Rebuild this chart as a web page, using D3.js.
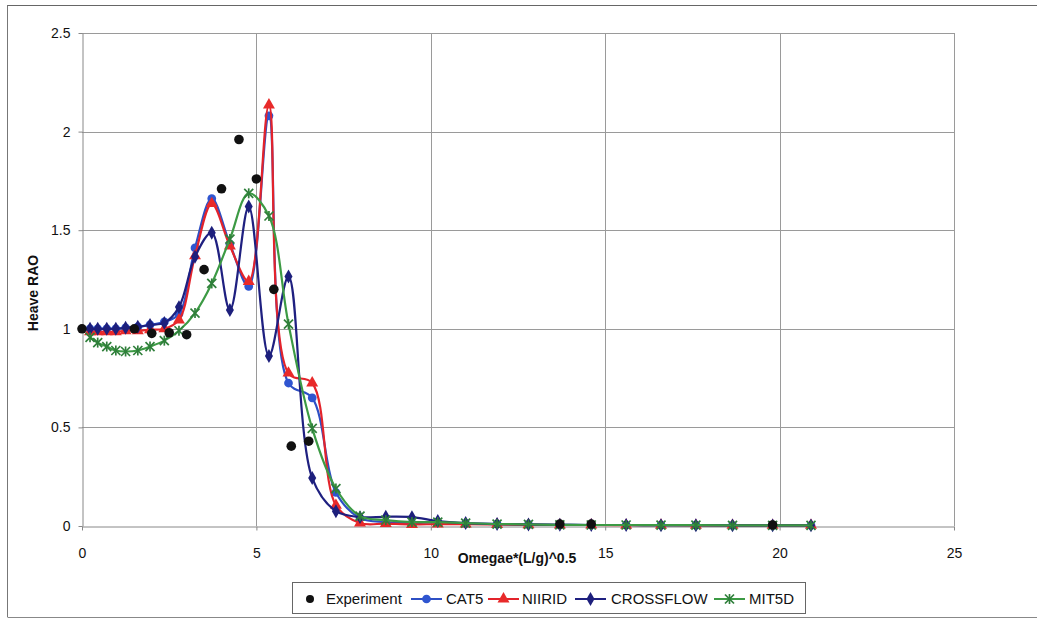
<!DOCTYPE html>
<html><head><meta charset="utf-8">
<script src="https://cdn.jsdelivr.net/npm/d3@7"></script>
<style>
body{margin:0;background:#fff;}
svg{display:block;font-family:"Liberation Sans",Arial,sans-serif;}
</style></head>
<body><svg id="c" width="1037" height="619"></svg>
<script>
// ---- data ----
const omega = [0.23,0.45,0.71,0.97,1.25,1.6,1.95,2.36,2.78,3.24,3.72,4.24,4.78,5.36,5.92,6.6,7.28,7.97,8.71,9.46,10.2,11.0,11.9,12.8,13.7,14.6,15.6,16.6,17.6,18.65,19.8,20.9];
const cat5 = [1.0,1.0,1.0,1.0,1.005,1.01,1.02,1.035,1.075,1.41,1.66,1.43,1.215,2.08,0.725,0.65,0.17,0.04,0.02,0.015,0.02,0.012,0.01,0.008,0.006,0.005,0.005,0.004,0.004,0.003,0.003,0.003];
const niirid = [0.985,0.985,0.985,0.985,0.99,0.99,0.995,1.0,1.045,1.37,1.635,1.42,1.24,2.135,0.775,0.725,0.105,0.015,0.012,0.008,0.01,0.01,0.008,0.006,0.005,0.005,0.004,0.004,0.003,0.003,0.003,0.003];
const crossflow = [1.0,1.0,1.0,1.0,1.005,1.01,1.02,1.03,1.11,1.365,1.487,1.095,1.62,0.862,1.265,0.243,0.075,0.045,0.047,0.045,0.025,0.015,0.01,0.008,0.006,0.005,0.005,0.004,0.004,0.003,0.003,0.003];
const mit5d = [0.957,0.93,0.91,0.89,0.885,0.89,0.91,0.94,0.99,1.08,1.23,1.455,1.687,1.572,1.024,0.495,0.19,0.05,0.03,0.02,0.02,0.015,0.01,0.008,0.006,0.005,0.005,0.004,0.004,0.003,0.003,0.003];
const expX = [0,1.5,2,2.5,3,3.5,4,4.5,5,5.5,6,6.5,13.7,14.6,19.8];
const expY = [1.0,1.0,0.977,0.98,0.97,1.30,1.71,1.96,1.76,1.20,0.405,0.43,0.01,0.01,0.005];
const xTicks = [0,5,10,15,20,25];
const yTicks = [0,0.5,1,1.5,2,2.5];
const seriesNames = ["Experiment","CAT5","NIIRID","CROSSFLOW","MIT5D"];

// ---- layout ----
const svg = d3.select("#c");
const L=82, R=954, T=33, B=526;
const x = d3.scaleLinear().domain([0,25]).range([L,R]);
const y = d3.scaleLinear().domain([0,2.5]).range([B,T]);

// outer frame
svg.append("line").attr("x1",7.5).attr("x2",7.5).attr("y1",5).attr("y2",617).attr("stroke","#777");
svg.append("line").attr("x1",7.5).attr("x2",1037).attr("y1",5.5).attr("y2",5.5).attr("stroke","#666");
svg.append("line").attr("x1",7.5).attr("x2",1037).attr("y1",617.5).attr("y2",617.5).attr("stroke","#888");

// grid
const g = svg.append("g");
g.selectAll(".hg").data(yTicks.filter(d=>d>0)).join("line")
  .attr("x1",L).attr("x2",R).attr("y1",d=>Math.round(y(d))+0.5).attr("y2",d=>Math.round(y(d))+0.5)
  .attr("stroke","#9a9a9a").attr("stroke-width",1);
g.selectAll(".vg").data(xTicks.filter(d=>d>0)).join("line")
  .attr("y1",T).attr("y2",B).attr("x1",d=>Math.round(x(d))+0.5).attr("x2",d=>Math.round(x(d))+0.5)
  .attr("stroke","#9a9a9a").attr("stroke-width",1);

// axes
const ax = svg.append("g").attr("transform",`translate(0,${B+0.5})`)
  .call(d3.axisBottom(x).tickValues(xTicks).tickFormat(d3.format("d")).tickSizeInner(4).tickSizeOuter(0).tickPadding(18));
const ay = svg.append("g").attr("transform",`translate(${L+0.5},0)`)
  .call(d3.axisLeft(y).tickValues(yTicks).tickFormat(d=>d===0?"0":String(d)).tickSizeInner(4).tickSizeOuter(0).tickPadding(8));
[ax,ay].forEach(a=>{
  a.select(".domain").attr("stroke","#888");
  a.selectAll(".tick line").attr("stroke","#888");
  a.selectAll("text").attr("font-size",14).attr("fill","#111").attr("font-family","'Liberation Sans',Arial,sans-serif");
});

// titles
svg.append("text").attr("x",517).attr("y",563).attr("text-anchor","middle")
  .attr("font-size",14).attr("font-weight","bold").attr("fill","#111").text("Omegae*(L/g)^0.5");
svg.append("text").attr("transform","translate(38,293) rotate(-90)").attr("text-anchor","middle")
  .attr("font-size",14).attr("font-weight","bold").attr("fill","#111").text("Heave RAO");

// series
const line = d3.line().curve(d3.curveCatmullRom.alpha(0.5)).x(d=>x(d[0])).y(d=>y(d[1]));
const series = [
  {name:"CAT5", vals:cat5, color:"#2d4fc4", mark:"#2f55d0", sym:d3.symbolCircle, size:60},
  {name:"NIIRID", vals:niirid, color:"#e3232b", mark:"#e82a2a", sym:d3.symbolTriangle, size:62},
  {name:"CROSSFLOW", vals:crossflow, color:"#1f2080", mark:"#1d1f7c", sym:d3.symbolDiamond, size:56},
  {name:"MIT5D", vals:mit5d, color:"#3c9a44", mark:"#2f7f3a", sym:"star", size:0}
];
function drawMarker(sel, s, cx, cy){
  if(s.sym==="star"){
    const r=4.5, gg=sel.append("g").attr("transform",`translate(${cx},${cy})`).attr("stroke",s.mark).attr("stroke-width",1.7);
    gg.append("line").attr("x1",-r).attr("y1",-r).attr("x2",r).attr("y2",r);
    gg.append("line").attr("x1",-r).attr("y1",r).attr("x2",r).attr("y2",-r);
    gg.append("line").attr("x1",0).attr("y1",-r-0.5).attr("x2",0).attr("y2",r+0.5);
  } else {
    sel.append("path").attr("d",d3.symbol().type(s.sym).size(s.size)())
      .attr("transform",`translate(${cx},${cy})`).attr("fill",s.mark);
  }
}
series.forEach(s=>{
  const pts = omega.map((o,i)=>[o,s.vals[i]]);
  const gs = svg.append("g");
  gs.append("path").datum(pts).attr("d",line).attr("fill","none").attr("stroke",s.color).attr("stroke-width",2.2);
  pts.forEach(p=>drawMarker(gs,s,x(p[0]),y(p[1])));
});
// experiment
svg.append("g").selectAll("circle").data(expX.map((v,i)=>[v,expY[i]])).join("circle")
  .attr("cx",d=>x(d[0])).attr("cy",d=>y(d[1])).attr("r",4.8).attr("fill","#111");

// legend
const lg = svg.append("g");
lg.append("rect").attr("x",292.5).attr("y",582.5).attr("width",513).attr("height",31).attr("fill","#fff").attr("stroke","#666");
const ly = 599;
lg.append("circle").attr("cx",310).attr("cy",ly).attr("r",4).attr("fill","#111");
lg.append("text").attr("x",326).attr("y",ly+5).attr("font-size",15).attr("fill","#111").text(seriesNames[0]);
const legPos = [[411,446],[488,522],[575,611],[714,749]];
series.forEach((s,i)=>{
  const [lx,tx]=legPos[i];
  lg.append("line").attr("x1",lx).attr("x2",lx+31).attr("y1",ly).attr("y2",ly).attr("stroke",s.color).attr("stroke-width",2);
  drawMarker(lg,s,lx+15.5,ly);
  lg.append("text").attr("x",tx).attr("y",ly+5).attr("font-size",15).attr("fill","#111").text(s.name);
});
</script></body></html>
